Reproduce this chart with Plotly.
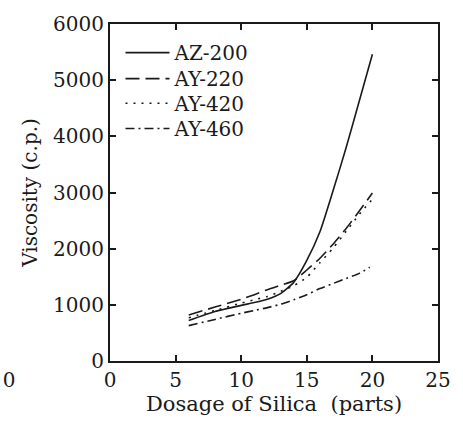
import plotly.graph_objects as go

dosage = [6, 8, 10, 11, 12, 13, 14, 15, 16, 17, 18, 19, 20]
az200 = [720, 880, 990, 1040, 1100, 1200, 1400, 1790, 2300, 3030, 3800, 4630, 5460]
ay220 = [820, 960, 1100, 1180, 1270, 1350, 1430, 1620, 1830, 2080, 2360, 2670, 2990]
ay420 = [770, 900, 1030, 1090, 1150, 1240, 1340, 1490, 1750, 2010, 2310, 2610, 2880]
dosage460 = [6, 8, 10, 11, 12, 13, 14, 15, 16, 17, 18, 19, 19.8]
ay460 = [630, 740, 850, 900, 950, 1010, 1090, 1180, 1290, 1380, 1470, 1560, 1670]

names = ["AZ-200", "AY-220", "AY-420", "AY-460"]
xticks = [0, 5, 10, 15, 20, 25]
yticks = [0, 1000, 2000, 3000, 4000, 5000, 6000]

FONT = "DejaVu Serif"
ink = "#1a1a1a"

fig = go.Figure()
series = [
    (dosage, az200, "solid"),
    (dosage, ay220, "14px,6px"),
    (dosage, ay420, "2px,6px"),
    (dosage460, ay460, "9px,4px,2px,4px"),
]
legend_ids = ["legend", "legend2", "legend3", "legend4"]
for name, (xs, ys, dash), lid in zip(names, series, legend_ids):
    fig.add_trace(go.Scatter(x=xs, y=ys, name=name, mode="lines", legend=lid,
                             line=dict(color=ink, width=1.6, dash=dash, shape="spline", smoothing=0.6)))

axis_common = dict(showgrid=False, zeroline=False, showline=True, linecolor=ink, linewidth=2,
                   mirror="ticks", ticks="inside", ticklen=6, tickwidth=1.5, tickcolor=ink,
                   tickfont=dict(family=FONT, size=20, color=ink))

legend_rows = [0.915, 0.838, 0.765, 0.69]
legend_style = dict(x=0.032, xanchor="left", yanchor="middle", bgcolor="rgba(0,0,0,0)",
                    font=dict(family=FONT, size=20, color=ink), itemwidth=44)

fig.update_layout(
    width=463, height=423,
    margin=dict(l=110, r=14, t=20, b=61),
    paper_bgcolor="white", plot_bgcolor="white",
    font=dict(family=FONT, size=20, color=ink),
    xaxis=dict(range=[0, 25], tickvals=xticks, ticktext=[str(v) for v in xticks],
               title=dict(text="Dosage of Silica\u00a0\u00a0(parts)", font=dict(family=FONT, size=21), standoff=4),
               **axis_common),
    yaxis=dict(range=[0, 6000], tickvals=yticks, ticktext=[str(v) for v in yticks],
               title=dict(text="Viscosity (c.p.)", font=dict(family=FONT, size=20), standoff=10),
               **axis_common),
    legend=dict(y=legend_rows[0], **legend_style),
    legend2=dict(y=legend_rows[1], **legend_style),
    legend3=dict(y=legend_rows[2], **legend_style),
    legend4=dict(y=legend_rows[3], **legend_style),
    showlegend=True,
)
fig.add_annotation(text="10", xref="paper", yref="paper", x=(14 - 110) / 339, y=-0.055,
                   xanchor="right", yanchor="middle", showarrow=False,
                   font=dict(family=FONT, size=20, color=ink))

fig.write_html("out.html")
